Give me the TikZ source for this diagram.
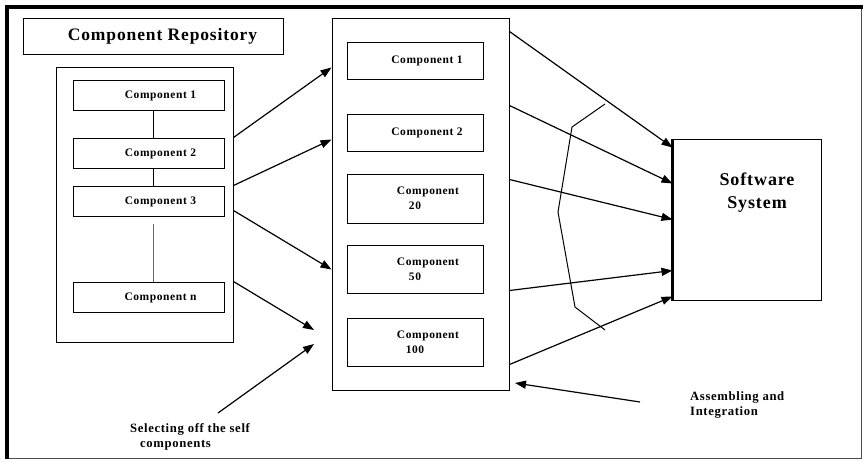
\documentclass[tikz,border=0pt]{standalone}
\usepackage{fontspec}
\setmainfont{Liberation Serif}
\newfontfamily\wideserif[LetterSpace=5]{Liberation Serif}
\usetikzlibrary{arrows.meta}

\tikzset{
  box/.style={draw, line width=1pt, inner sep=0pt},
  comp/.style={box, minimum width=151pt, minimum height=30pt, align=center,
    font=\wideserif\bfseries\fontsize{11.5}{15}\selectfont},
  midcomp/.style={comp, minimum width=136pt},
  link/.style={line width=1.2pt, -{Triangle[length=11pt,width=8pt]}},
  note/.style={inner sep=0pt, align=left,
    font=\wideserif\bfseries\fontsize{12.7}{15.5}\selectfont}
}

\begin{document}
\begin{tikzpicture}[x=1pt,y=-1pt]
\useasboundingbox (0,0) rectangle (863,461);
% frame
\draw[line width=1.5pt, black!70] (8,7) rectangle (861.5,458.5);
\draw[line width=4pt] (7,459) -- (7,7) -- (863,7);

% repository
\node[box, minimum width=260pt, minimum height=36pt,
  font=\wideserif\bfseries\fontsize{17.5}{20}\selectfont] (title) at (153,36) {\hspace*{19pt}Component Repository};
\node[box, minimum width=177pt, minimum height=275pt] (repo) at (144.5,204.5) {};
\node[comp] (c1) at (148.5,95.5) {\hspace*{24pt}Component 1};
\node[comp] (c2) at (148.5,153.5) {\hspace*{24pt}Component 2};
\node[comp] (c3) at (148.5,201.5) {\hspace*{24pt}Component 3};
\node[comp] (cn) at (148.5,297.5) {\hspace*{24pt}Component n};
\draw[line width=1pt] ([xshift=4.5pt]c1.south) -- ([xshift=4.5pt]c2.north);
\draw[line width=1pt] ([xshift=4.5pt]c2.south) -- ([xshift=4.5pt]c3.north);
\draw[line width=0.6pt, black!60, shorten <=7pt] ([xshift=4.5pt]c3.south) -- ([xshift=4.5pt]cn.north);

% selected components
\node[box, minimum width=177pt, minimum height=372pt] (store) at (420.5,204) {};
\node[midcomp, minimum height=37pt] (m1) at (415,60.5) {\hspace*{24pt}Component 1};
\node[midcomp, minimum height=37pt] (m2) at (415,132.5) {\hspace*{24pt}Component 2};
\node[midcomp, minimum height=49pt] (m20) at (415,198.5) {\hspace*{26pt}Component\\20};
\node[midcomp, minimum height=48pt] (m50) at (415,269) {\hspace*{26pt}Component\\50};
\node[midcomp, minimum height=48pt] (m100) at (415,342) {\hspace*{26pt}Component\\100};

% software system
\node[box, minimum width=148pt, minimum height=161pt] (sys) at (747,219.5) {};
\draw[line width=3pt] (sys.north west) -- (sys.south west);
\node[font=\wideserif\bfseries\fontsize{18}{23}\selectfont, align=center] (systext) at (757,193) {Software\\System};

% selecting
\path (repo.north east) ++(0,71) coordinate (r1) ++(0,48) coordinate (r2)
  ++(0,25) coordinate (r3) ++(0,71) coordinate (r4);
\path (store.north west) ++(0,50) coordinate (s1) ++(0,72) coordinate (s2)
  ++(0,130) coordinate (s3);
\coordinate (sel1) at (314,330);
\coordinate (sel2) at (314,344);
\coordinate (seltail) at (218,413);
\draw[link] (r1) -- (s1);
\draw[link] (r2) -- (s2);
\draw[link] (r3) -- (s3);
\draw[link] (r4) -- (sel1);
\draw[link] (seltail) -- (sel2);

% assembling
\path (store.north east) ++(0,14) coordinate (o1) ++(0,74) coordinate (o2)
  ++(0,74) coordinate (o3) ++(0,111) coordinate (o4) ++(0,74) coordinate (o5);
\path (sys.north west) ++(0,9) coordinate (i1) ++(0,36) coordinate (i2)
  ++(0,36) coordinate (i3) ++(0,51) coordinate (i4) ++(0,26) coordinate (i5);
\foreach \k in {1,...,5}
  \draw[link] (o\k) -- (i\k);
\draw[line width=1pt] (605,104) -- (572,127) -- (558,212) -- (575,307) -- (605,330);
\coordinate (asmtail) at (640,402);
\coordinate (asmhead) at (515,383);
\draw[link] (asmtail) -- (asmhead);

% labels
\node[note, anchor=north west] (seltext) at (130,423) {Selecting off the self\\\hspace*{10pt}components};
\node[note, anchor=west] (asmtext) at (690,405) {Assembling and\\Integration};
\end{tikzpicture}
\end{document}
